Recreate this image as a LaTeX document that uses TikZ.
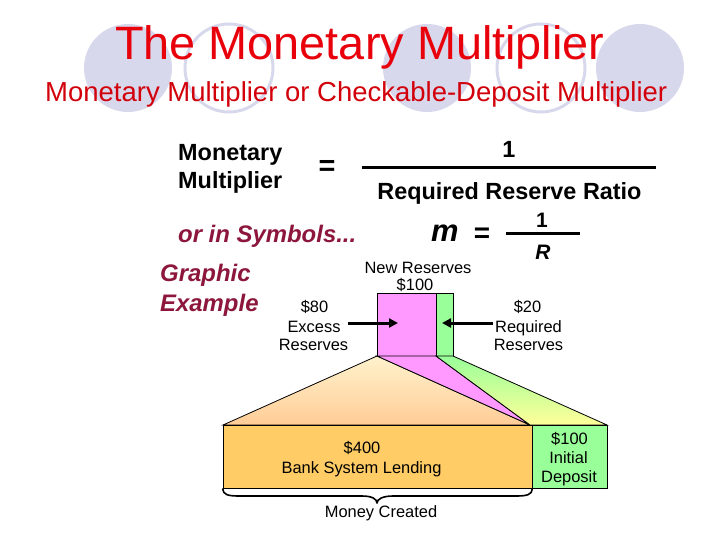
\documentclass[tikz,border=0pt]{standalone}
\usepackage{fontspec}
\setmainfont{Liberation Sans}
\usetikzlibrary{arrows.meta}
\definecolor{titlered}{RGB}{232,0,10}
\definecolor{subred}{RGB}{210,0,10}
\definecolor{maroon}{RGB}{140,22,60}
\definecolor{lav}{RGB}{216,216,236}
\definecolor{pinkf}{RGB}{255,153,255}
\definecolor{greenf}{RGB}{153,255,153}
\definecolor{orangef}{RGB}{255,204,102}
\definecolor{paleor}{RGB}{255,242,204}
\definecolor{peach}{RGB}{255,204,150}
\definecolor{yellowf}{RGB}{255,255,153}
\tikzset{
  lab/.style={font=\fontsize{16.5}{19}\selectfont, inner sep=0, anchor=base},
  big/.style={font=\bfseries\fontsize{23.5}{28}\selectfont, inner sep=0, anchor=base},
  sym/.style={font=\bfseries\itshape\fontsize{24}{28}\selectfont, text=maroon, inner sep=0, anchor=base west},
  dot/.style={fill=lav, draw=none},
  ring/.style={draw=lav, line width=3bp},
  box/.style={draw=black, line width=0.8bp},
  fracline/.style={line width=3bp},
  pointer/.style={line width=3bp, -{Triangle[length=9bp,width=9bp]}},
  bracestyle/.style={line width=1.6bp, line join=round}
}
\begin{document}
\begin{tikzpicture}[x=1bp,y=-1bp]
\useasboundingbox (0,0) rectangle (720,540);
% background circles
\fill[dot] (128,68) circle (44);
\draw[ring] (229,68) circle (44);
\fill[dot] (427,68) circle (44);
\draw[ring] (541,68) circle (44);
\fill[dot] (640,68) circle (44);
% titles
\node[inner sep=0, anchor=base west, text=titlered, font=\fontsize{47}{52}\selectfont] (title) at (115,60) {The Monetary Multiplier};
\node[inner sep=0, anchor=base west, text=subred, font=\fontsize{27.6}{32}\selectfont] (subtitle) at (45,102) {Monetary Multiplier or Checkable-Deposit Multiplier};
% formula
\node[big, anchor=base west] (mon) at (178,161) {Monetary};
\node[big, anchor=base west] (mul) at (178,189) {Multiplier};
\node[inner sep=0, font=\bfseries\fontsize{29}{32}\selectfont] (eq1) at (327,168) {=};
\coordinate (fl1) at (362,168);
\coordinate (fr1) at (656,168);
\draw[fracline] (fl1) -- (fr1);
\node[big] (one1) at (509,158) {1};
\node[big] (rrr) at (509.5,200) {Required Reserve Ratio};
% symbols
\node[sym] (ors) at (178,243) {or in Symbols...};
\node[inner sep=0, anchor=base west, font=\bfseries\itshape\fontsize{31}{34}\selectfont] (mm) at (431,242) {m};
\node[inner sep=0, font=\bfseries\fontsize{28}{32}\selectfont] (eq2) at (482,235.5) {=};
\coordinate (fl2) at (506,234);
\coordinate (fr2) at (580,234);
\draw[fracline] (fl2) -- (fr2);
\node[inner sep=0, anchor=base, font=\bfseries\fontsize{21}{24}\selectfont] (one2) at (542,228) {1};
\node[inner sep=0, anchor=base, font=\bfseries\itshape\fontsize{21}{24}\selectfont] (rr) at (543,260) {R};
\node[sym] (gr) at (160,282) {Graphic};
\node[sym] (ex) at (160,311) {Example};
% new reserves
\node[lab] (nr) at (418,274) {New Reserves};
\node[lab] (nr100) at (415,290) {\$100};
\node[box, fill=pinkf, minimum width=59bp, minimum height=63bp, inner sep=0] (pink) at (406.5,324.5) {};
\node[box, fill=greenf, minimum width=17bp, minimum height=63bp, inner sep=0] (green) at (444.5,324.5) {};
% labels left and right
\node[lab] (e80) at (314.5,312) {\$80};
\node[lab] (eexc) at (314,332) {Excess};
\node[lab] (eres) at (313.5,350) {Reserves};
\node[lab] (r20) at (527.5,312) {\$20};
\node[lab] (rreq) at (528.5,332) {Required};
\node[lab] (rres) at (528.5,350) {Reserves};
\coordinate (la) at (348,323);
\coordinate (lb) at (398,323);
\coordinate (ra) at (493,323);
\coordinate (rb) at (442,323);
\draw[pointer] (la) -- (lb);
\draw[pointer] (ra) -- (rb);
% funnel
\coordinate (pa) at (377,356);
\coordinate (pb) at (436,356);
\coordinate (pc) at (453,356);
\coordinate (bl) at (223,425);
\coordinate (bm) at (530,425);
\coordinate (br) at (607,425);
\shade[top color=paleor, bottom color=peach, draw=black, line width=0.8bp] (bl) -- (pa) -- (bm) -- cycle;
\fill[pinkf, draw=black, line width=0.8bp] (pa) -- (pb) -- (bm) -- cycle;
\shade[top color=greenf, bottom color=yellowf, draw=black, line width=0.8bp] (pb) -- (pc) -- (br) -- (bm) -- cycle;
% bottom boxes
\node[box, fill=orangef, minimum width=309bp, minimum height=63bp, inner sep=0] (lend) at (377.5,456.5) {};
\node[box, fill=greenf, minimum width=75bp, minimum height=63bp, inner sep=0] (dep) at (569.5,456.5) {};
\node[lab] (l400) at (362,453) {\$400};
\node[lab] (lbsl) at (361.5,473) {Bank System Lending};
\node[lab] (d100) at (569.5,444) {\$100};
\node[lab] (dini) at (568.5,463) {Initial};
\node[lab] (ddep) at (569,482) {Deposit};
% brace
\draw[bracestyle] (lend.south west) .. controls (223,495) and (228,496) .. (240,496) -- (362,496) .. controls (372,496) and (377,499) .. (377,503) .. controls (377,499) and (383,496) .. (393,496) -- (515,496) .. controls (527,496) and (532,495) .. (lend.south east);
\node[lab] (mc) at (381,517) {Money Created};
\end{tikzpicture}
\end{document}
